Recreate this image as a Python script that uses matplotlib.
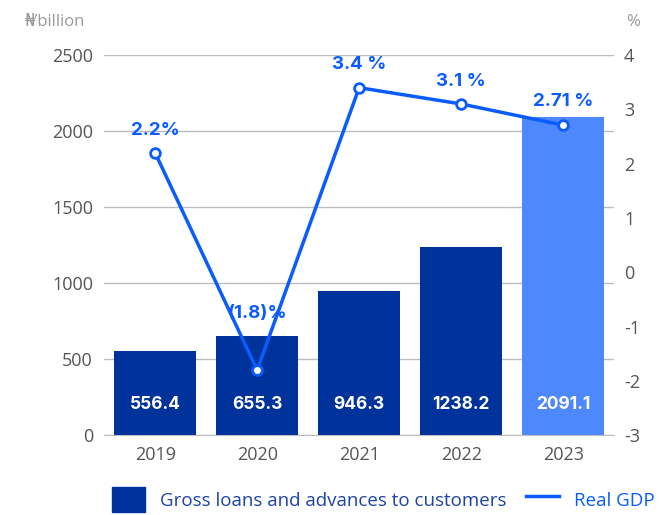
import matplotlib
matplotlib.use("Agg")
import matplotlib.pyplot as plt
from matplotlib.patches import Patch
from matplotlib.lines import Line2D

plt.rcParams["font.family"] = ["Open Sans", "DejaVu Sans"]
plt.rcParams["axes.unicode_minus"] = False

years = ["2019", "2020", "2021", "2022", "2023"]
loans = [556.4, 655.3, 946.3, 1238.2, 2091.1]
gdp = [2.2, -1.8, 3.4, 3.1, 2.71]
gdp_labels = ["2.2%", "(1.8)%", "3.4 %", "3.1 %", "2.71 %"]
gdp_offsets = [16, 41, 17, 16, 17]

DARK = "#00329c"
LIGHT = "#4d88ff"
LINE = "#0a5cff"
GRID = "#bdbdbd"
TICK = "#555555"
BOLD_FONT = ["Inter", "DejaVu Sans"]

fig = plt.figure(figsize=(6.59, 5.15), dpi=100)
ax = fig.add_axes([0.158, 0.155, 0.774, 0.738])
x = range(len(years))
colors = [DARK] * (len(years) - 1) + [LIGHT]
ax.bar(x, loans, width=0.8, color=colors, zorder=2)
ax.set_ylim(0, 2500)
ax.set_xlim(-0.5, 4.5)
ax.set_yticks(range(0, 2501, 500))
ax.set_xticks(list(x))
ax.set_xticklabels(years)
ax.grid(axis="y", color=GRID, linewidth=1, zorder=0)
for s in ["top", "right", "left"]:
    ax.spines[s].set_visible(False)
ax.spines["bottom"].set_color(GRID)
ax.tick_params(axis="both", length=0, labelsize=13, colors=TICK)
ax.tick_params(axis="x", pad=8)
ax.tick_params(axis="y", pad=8)

for i, v in enumerate(loans):
    ax.annotate(f"{v:.1f}", (i, 0), xytext=(0, 22), textcoords="offset points",
                ha="center", va="center", color="white", fontsize=12.5,
                fontweight="bold", family=BOLD_FONT)

ax2 = ax.twinx()
ax2.set_ylim(-3, 4)
ax2.set_yticks(range(-3, 5))
for s in ["top", "right", "left", "bottom"]:
    ax2.spines[s].set_visible(False)
ax2.tick_params(axis="y", length=0, labelsize=13, colors=TICK, pad=7)
ax2.plot(list(x), gdp, color=LINE, linewidth=2.5, marker="o", markersize=7,
         markerfacecolor="white", markeredgecolor=LINE, markeredgewidth=2,
         zorder=3)
for i, (v, lab) in enumerate(zip(gdp, gdp_labels)):
    ax2.annotate(lab, (i, v), xytext=(0, gdp_offsets[i]),
                 textcoords="offset points", ha="center", va="center",
                 color=LINE, fontsize=13.5, fontweight="bold",
                 family=BOLD_FONT)

fig.text(0.038, 0.958, "\u20a6\u2019billion", color="#9a9a9a", fontsize=12,
         va="center", ha="left")
fig.text(0.96, 0.958, "%", color="#9a9a9a", fontsize=12, va="center",
         ha="center")

handles = [Patch(facecolor=DARK, edgecolor=DARK),
           Line2D([0], [0], color=LINE, linewidth=2.5)]
leg = fig.legend(handles, ["Gross loans and advances to customers", "Real GDP"],
                 loc="center left", bbox_to_anchor=(0.155, 0.03), ncol=2,
                 frameon=False, fontsize=13.5, handlelength=1.8,
                 handleheight=1.65, columnspacing=1.0, handletextpad=0.8,
                 borderpad=0)
leg.get_texts()[0].set_color("#1d43a6")
leg.get_texts()[1].set_color(LINE)

fig.savefig("out.png", dpi=100)
